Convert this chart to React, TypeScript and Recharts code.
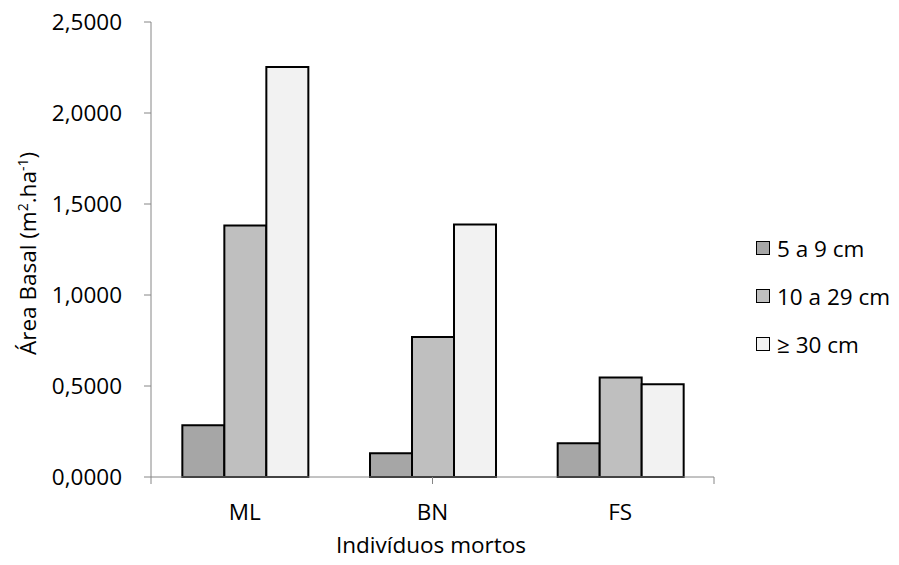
import { BarChart, Bar, XAxis, YAxis, Label } from 'recharts';

const categories = ['ML', 'BN', 'FS'];
const series5a9 = [0.285, 0.13, 0.185];
const series10a29 = [1.382, 0.769, 0.547];
const series30 = [2.253, 1.387, 0.51];
const yTicks = [0, 0.5, 1, 1.5, 2, 2.5];
const boundaryTicks = [0, 1, 2, 3];

const SERIES = [
  { key: 's1', name: '5 a 9 cm', color: '#a6a6a6' },
  { key: 's2', name: '10 a 29 cm', color: '#bfbfbf' },
  { key: 's3', name: '\u2265 30 cm', color: '#f2f2f2' },
];

const data = categories.map((name, i) => ({
  name,
  s1: series5a9[i],
  s2: series10a29[i],
  s3: series30[i],
}));

const FONT = '"Open Sans", sans-serif';
const FS = 22.5;
const AXIS = '#868686';

const fmt = (v: number) => v.toFixed(4).replace('.', ',');

const LegendBox = () => (
  <div
    style={{
      position: 'absolute',
      left: 756,
      top: 224,
      fontFamily: FONT,
      fontSize: FS,
      color: '#000',
    }}
  >
    {SERIES.map((s) => (
      <div
        key={s.key}
        style={{ display: 'flex', alignItems: 'center', height: 48 }}
      >
        <span
          style={{
            width: 12,
            height: 12,
            background: s.color,
            border: '1px solid #000',
            marginRight: 7,
          }}
        />
        <span>{s.name}</span>
      </div>
    ))}
  </div>
);

const YTitle = () => (
  <text
    x={0}
    y={0}
    transform='translate(36, 355) rotate(-90)'
    textAnchor='start'
    fontFamily={FONT}
    fontSize={FS}
    fill='#000'
  >
    <tspan>Área Basal (m</tspan>
    <tspan fontSize={14} dy={-8}>2</tspan>
    <tspan dy={8}>.ha</tspan>
    <tspan fontSize={14} dy={-8}>-1</tspan>
    <tspan dy={8}>)</tspan>
  </text>
);

const XTitle = () => (
  <text
    x={431}
    y={553}
    textAnchor='middle'
    fontFamily={FONT}
    fontSize={FS}
    fill='#000'
  >
    Indivíduos mortos
  </text>
);

export default function App() {
  return (
    <div style={{ position: 'absolute', left: 0, top: 0, background: '#fff' }}>
      <BarChart
        width={899}
        height={565}
        data={data}
        margin={{ top: 22, right: 185, bottom: 0, left: 0 }}
        barCategoryGap='16.7%'
        barGap={0}
      >
        <XAxis
          xAxisId='b'
          type='number'
          domain={[0, 3]}
          ticks={boundaryTicks}
          height={1}
          tickSize={7}
          tickFormatter={() => ''}
          axisLine={{ stroke: AXIS }}
          tickLine={{ stroke: AXIS }}
        />
        <XAxis
          xAxisId='cat'
          dataKey='name'
          height={87}
          axisLine={false}
          tickLine={false}
          tickSize={0}
          tickMargin={26}
          tick={{ fill: '#000', fontSize: FS, fontFamily: FONT }}
        >
          <Label content={XTitle} />
        </XAxis>
        <YAxis
          width={151}
          domain={[0, 2.5]}
          ticks={yTicks}
          tickFormatter={fmt}
          tickSize={7}
          tickMargin={22}
          stroke={AXIS}
          tick={{ fill: '#000', fontSize: FS, fontFamily: FONT }}
        >
          <Label content={YTitle} />
        </YAxis>
        {SERIES.map((s) => (
          <Bar
            key={s.key}
            xAxisId='cat'
            dataKey={s.key}
            name={s.name}
            fill={s.color}
            stroke='#000'
            strokeWidth={2}
            isAnimationActive={false}
          />
        ))}
      </BarChart>
      <LegendBox />
    </div>
  );
}
